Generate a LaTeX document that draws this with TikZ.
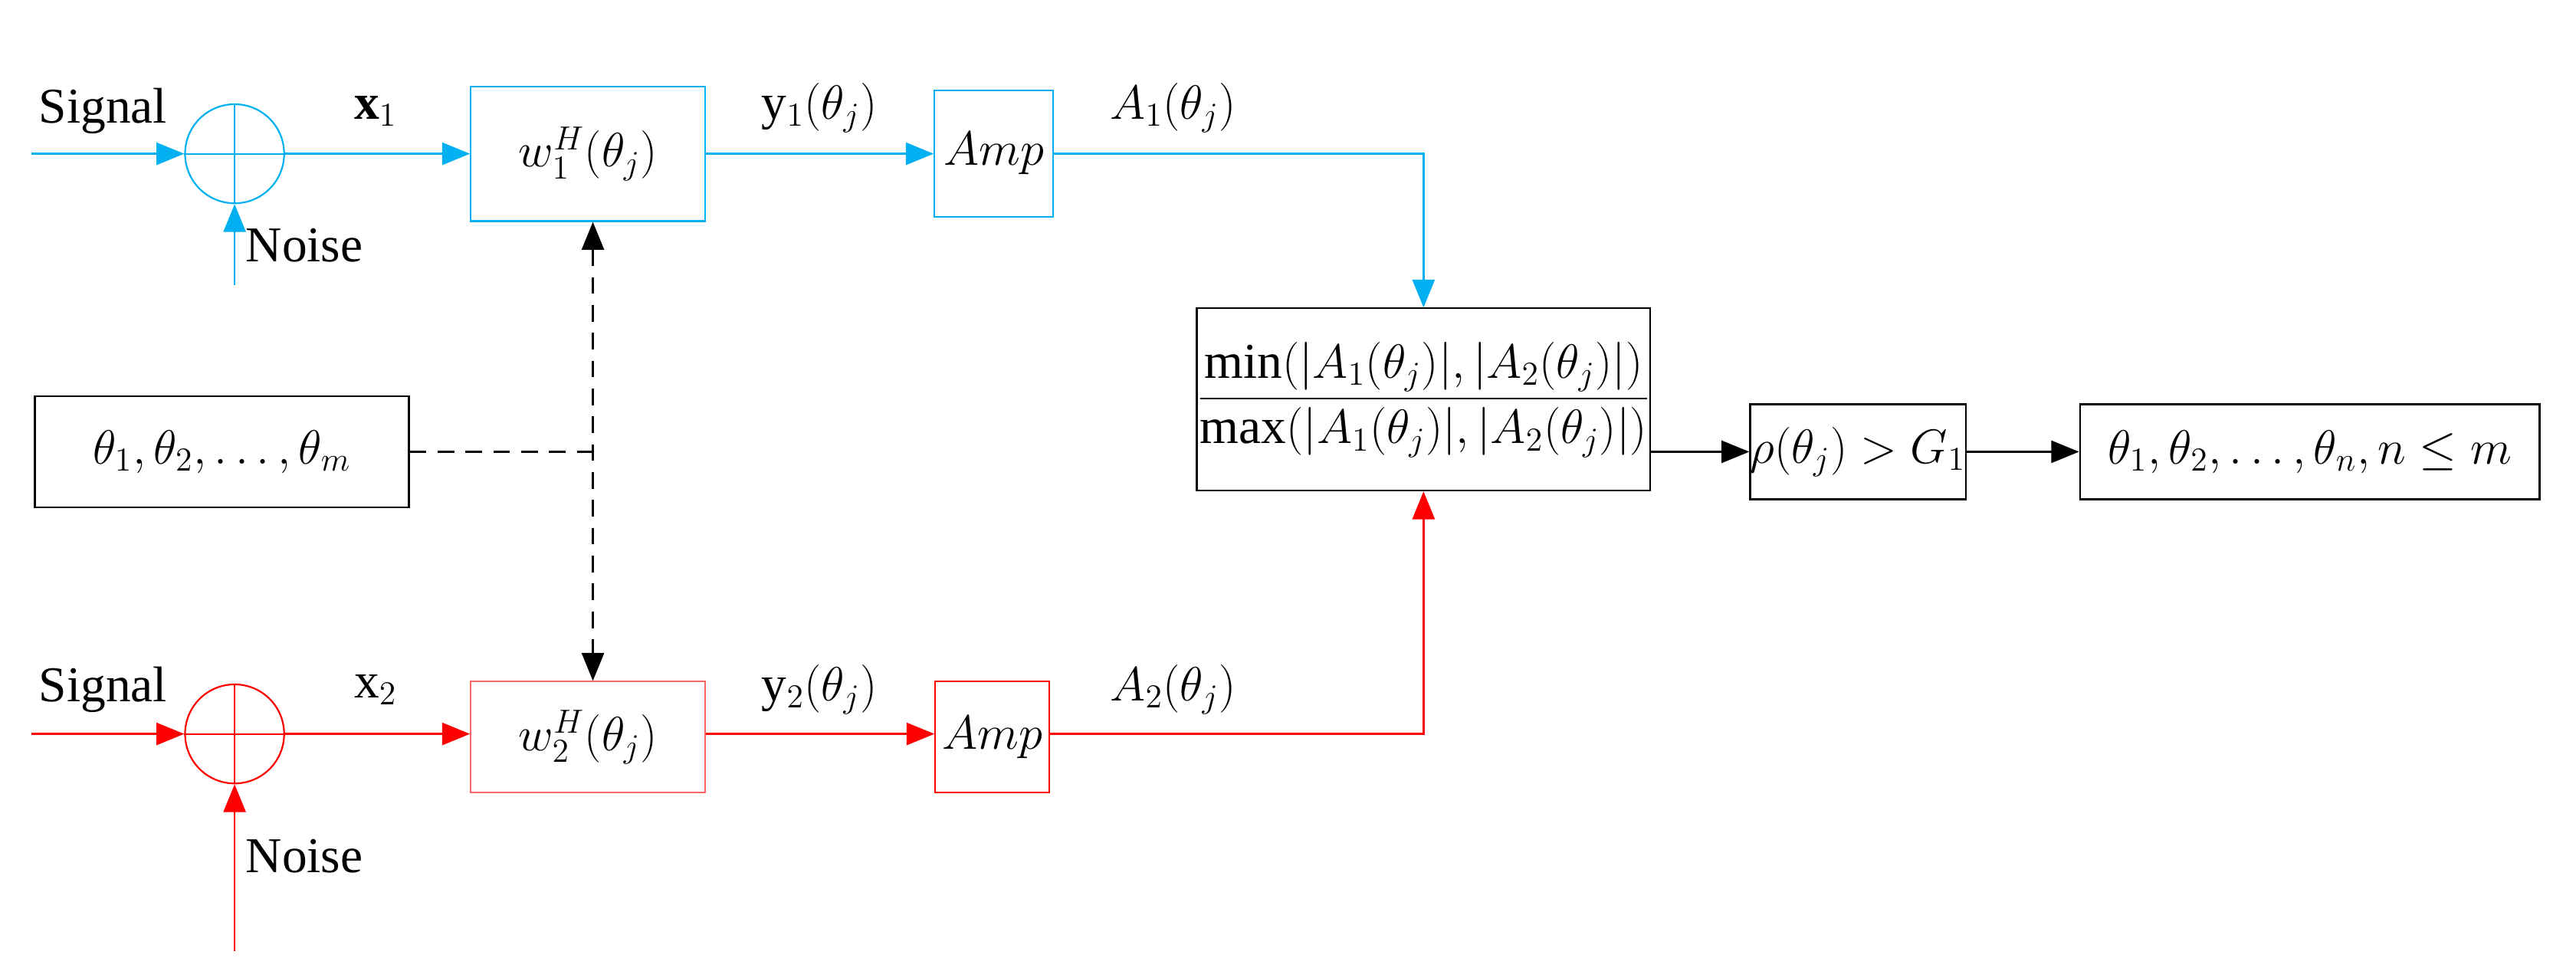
\documentclass[tikz,border=0pt]{standalone}
\usepackage{amsmath}
\usepackage{fontspec}
\setmainfont{Liberation Serif}
\usetikzlibrary{arrows.meta}
\definecolor{cy}{RGB}{0,176,240}
\definecolor{rd}{RGB}{255,0,0}
\begin{document}
\begin{tikzpicture}[x=0.02cm,y=-0.02cm,
  font=\fontsize{18}{20}\selectfont,
  tip/.style={-{Triangle[length=10pt,width=8pt]}},
  box/.style={draw,rectangle,inner sep=0pt,line width=0.6pt},
  sum/.style={draw,circle,minimum size=1.25cm,inner sep=0pt,line width=0.6pt},
  lab/.style={inner sep=1pt},
  line width=0.7pt]
\useasboundingbox (0,0) rectangle (1625,604);
% top row
\begin{scope}[cy]
\coordinate (s1) at (20,97);
\coordinate (n1) at (148,180);
\node[sum] (c1) at (148,97) {};
\draw[line width=0.5pt] (c1.north)--(c1.south) (c1.west)--(c1.east);
\node[box,minimum width=2.96cm,minimum height=1.7cm,text=black] (w1) at (371,97) {$w_1^H(\theta_j)$};
\node[box,minimum width=1.5cm,minimum height=1.6cm,text=black] (a1) at (627,97) {$Amp$};
\draw[tip] (s1)--(c1);
\draw[tip] (n1)--(c1);
\draw[tip] (c1)--(w1);
\draw[tip] (w1)--(a1);
\end{scope}
\node[lab] (ls1) at (65,70) {Signal};
\node[lab] (ln1) at (192,155) {Noise};
\node[lab] (lx1) at (237,70) {$\mathbf{x}_1$};
\node[lab] (ly1) at (517,68) {$\mathrm{y}_1(\theta_j)$};
\node[lab] (lA1) at (740,68) {$A_1(\theta_j)$};
% bottom row
\begin{scope}[rd]
\coordinate (s2) at (20,463);
\coordinate (n2) at (148,600);
\node[sum] (c2) at (148,463) {};
\draw[line width=0.5pt] (c2.north)--(c2.south) (c2.west)--(c2.east);
\node[box,minimum width=2.96cm,minimum height=1.4cm,draw=rd!60,text=black] (w2) at (371,465) {$w_2^H(\theta_j)$};
\node[box,minimum width=1.44cm,minimum height=1.4cm,text=black] (a2) at (626,465) {$Amp$};
\draw[tip] (s2)--(c2);
\draw[tip] (n2)--(c2);
\draw[tip] (c2)--(c2-|w2.west);
\draw[tip] (w2.east|-c2)--(a2.west|-c2);
\end{scope}
\node[lab] (ls2) at (65,435) {Signal};
\node[lab] (ln2) at (192,540) {Noise};
\node[lab] (lx2) at (237,435) {x$_2$};
\node[lab] (ly2) at (517,435) {$\mathrm{y}_2(\theta_j)$};
\node[lab] (lA2) at (740,435) {$A_2(\theta_j)$};
% big box
\node[box,minimum width=5.4cm,minimum height=2.3cm] (big) at (898,252)
  {$\dfrac{\min(|A_1(\theta_j)|,|A_2(\theta_j)|)}{\max(|A_1(\theta_j)|,|A_2(\theta_j)|)}$};
\draw[cy,tip] (a1.east) -| (big.north);
\draw[rd,tip] (a2.east|-c2) -| (big.south);
\node[box,minimum width=2.7cm,minimum height=1.2cm] (rho) at (1172,285) {$\rho(\theta_j)>G_1$};
\node[box,minimum width=5.8cm,minimum height=1.2cm] (res) at (1457,285) {$\theta_1,\theta_2,\ldots,\theta_n,n\le m$};
\draw[tip] (big.east|-rho)--(rho);
\draw[tip] (rho)--(res);
% theta box
\node[box,minimum width=4.72cm,minimum height=1.4cm] (th) at (140,285) {$\theta_1,\theta_2,\ldots,\theta_m$};
\coordinate (j) at (374,285);
\draw[dashed,dash pattern=on 6pt off 4pt] (th.east)--(j);
\draw[dashed,dash pattern=on 6pt off 4pt,{Triangle[length=10pt,width=8pt]}-{Triangle[length=10pt,width=8pt]}] (w1.south-|j)--(w2.north-|j);
\end{tikzpicture}
\end{document}
